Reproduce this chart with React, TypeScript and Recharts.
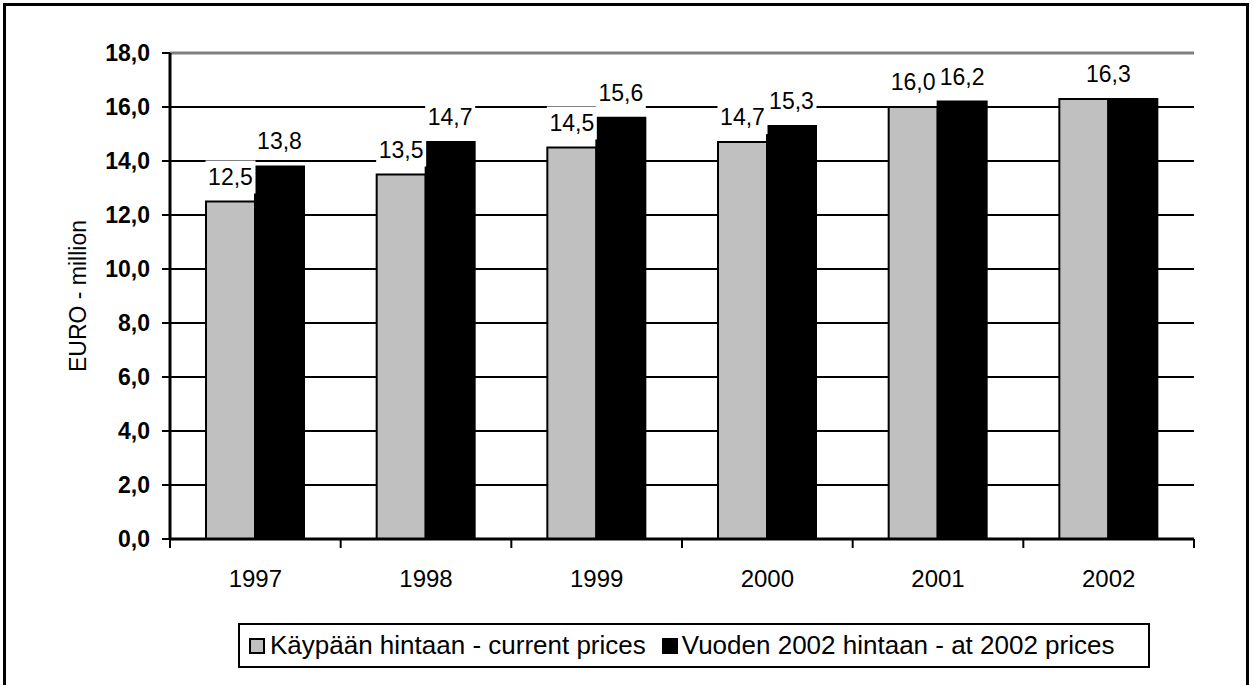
import React from "react";
import {
  BarChart,
  Bar,
  XAxis,
  YAxis,
  CartesianGrid,
  ReferenceLine,
  LabelList,
} from "recharts";

const years = ["1997", "1998", "1999", "2000", "2001", "2002"];
const currentPrices = [12.5, 13.5, 14.5, 14.7, 16.0, 16.3];
const constantPrices = [13.8, 14.7, 15.6, 15.3, 16.2, 16.3];
const yTicks = [0, 2, 4, 6, 8, 10, 12, 14, 16, 18];
const seriesNames = [
  "Käypään hintaan - current prices",
  "Vuoden 2002 hintaan - at 2002 prices",
];

const data = years.map((year, i) => ({
  year,
  current: currentPrices[i],
  constant: constantPrices[i],
}));

const FONT = "Arial, 'Liberation Sans', sans-serif";
const W = 1253;
const H = 685;
const PLOT_LEFT = 170;
const PLOT_RIGHT = 1194;
const BAND = (PLOT_RIGHT - PLOT_LEFT) / years.length;

const fmt = (v: number) => v.toFixed(1).replace(".", ",");

// label with a white box behind it, like the Excel original
const makeLabel = (series: "current" | "constant") => (props: any) => {
  const vb = props.viewBox ?? props;
  const idx = props.index as number;
  const same = currentPrices[idx] === constantPrices[idx];
  if (series === "current" && same) return null;
  const cx = series === "constant" && same ? vb.x : vb.x + vb.width / 2;
  const top = vb.y;
  return (
    <g>
      <rect x={cx - 25} y={top - 41} width={50} height={33} fill="#fff" />
      <text
        x={cx}
        y={top - 25}
        textAnchor="middle"
        dominantBaseline="central"
        fontSize={23}
        fontFamily={FONT}
        fill="#000"
      >
        {fmt(Number(props.value))}
      </text>
    </g>
  );
};

const XTick = (props: any) => {
  const { x, y, payload, index } = props;
  const half = BAND / 2;
  return (
    <g>
      <line x1={x - half} y1={y} x2={x - half} y2={y + 9} stroke="#000" strokeWidth={2} />
      {index === years.length - 1 && (
        <line x1={x + half} y1={y} x2={x + half} y2={y + 9} stroke="#000" strokeWidth={2} />
      )}
      <text x={x} y={y + 48} textAnchor="middle" fontSize={24} fontFamily={FONT} fill="#000">
        {payload.value}
      </text>
    </g>
  );
};

const YLabel = (props: any) => {
  const vb = props.viewBox;
  const cx = 78;
  const cy = vb.y + vb.height / 2;
  return (
    <text
      x={cx}
      y={cy}
      transform={`rotate(-90 ${cx} ${cy})`}
      textAnchor="middle"
      dominantBaseline="central"
      fontSize={23}
      fontFamily={FONT}
      fill="#000"
    >
      EURO - million
    </text>
  );
};

const LegendBox = () => (
  <div
    style={{
      position: "absolute",
      left: 238,
      top: 623,
      width: 912,
      height: 45,
      boxSizing: "border-box",
      border: "2px solid #000",
      display: "flex",
      alignItems: "center",
      paddingLeft: 9,
      fontFamily: FONT,
      fontSize: 26,
      color: "#000",
      background: "#fff",
    }}
  >
    <span
      style={{
        width: 16,
        height: 16,
        boxSizing: "border-box",
        border: "2px solid #000",
        background: "#C0C0C0",
        marginRight: 5,
      }}
    />
    <span style={{ marginRight: 16 }}>{seriesNames[0]}</span>
    <span
      style={{
        width: 16,
        height: 16,
        background: "#000",
        marginRight: 4,
      }}
    />
    <span>{seriesNames[1]}</span>
  </div>
);

export default function App() {
  return (
    <div
      style={{
        position: "absolute",
        left: 0,
        top: 0,
        width: W,
        height: H,
        overflow: "hidden",
        background: "#fff",
      }}
    >
      <div
        style={{
          position: "absolute",
          left: 3,
          top: 3,
          width: 1246,
          height: 700,
          boxSizing: "border-box",
          border: "3px solid #000",
        }}
      />
      <div style={{ position: "absolute", left: 0, top: 0 }}>
        <BarChart
          width={W}
          height={H}
          data={data}
          margin={{ top: 53, right: W - PLOT_RIGHT, bottom: 0, left: 0 }}
          barCategoryGap={36}
          barGap={0}
        >
          <CartesianGrid vertical={false} stroke="#000" strokeWidth={2} />
          <XAxis
            dataKey="year"
            height={146}
            interval={0}
            tickSize={0}
            tickMargin={0}
            tickLine={false}
            axisLine={{ stroke: "#000", strokeWidth: 3 }}
            tick={<XTick />}
          />
          <YAxis
            width={PLOT_LEFT}
            domain={[0, 18]}
            ticks={yTicks}
            interval={0}
            tickFormatter={fmt}
            tickSize={8}
            tickMargin={12}
            tickLine={{ stroke: "#000", strokeWidth: 2 }}
            axisLine={{ stroke: "#000", strokeWidth: 3 }}
            tick={{ fill: "#000", fontSize: 23, fontWeight: "bold", fontFamily: FONT }}
            label={<YLabel />}
          />
          <YAxis
            yAxisId="right"
            orientation="right"
            width={0}
            domain={[0, 18]}
            tick={false}
            tickLine={false}
            axisLine={{ stroke: "#808080", strokeWidth: 3 }}
          />
          <ReferenceLine y={18} stroke="#808080" strokeWidth={3} />
          <Bar
            dataKey="current"
            name={seriesNames[0]}
            fill="#C0C0C0"
            stroke="#000"
            strokeWidth={2}
            isAnimationActive={false}
          >
            <LabelList dataKey="current" content={makeLabel("current")} />
          </Bar>
          <Bar
            dataKey="constant"
            name={seriesNames[1]}
            fill="#000"
            stroke="#000"
            strokeWidth={2}
            isAnimationActive={false}
          >
            <LabelList dataKey="constant" content={makeLabel("constant")} />
          </Bar>
        </BarChart>
      </div>
      <LegendBox />
    </div>
  );
}
